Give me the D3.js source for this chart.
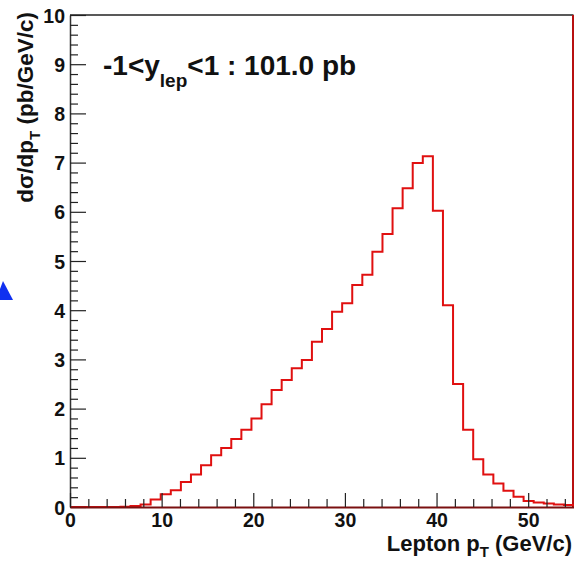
<!DOCTYPE html>
<html>
<head>
<meta charset="utf-8">
<script src="https://cdn.jsdelivr.net/npm/d3@7"></script>
<style>
  html, body { margin: 0; padding: 0; background: #fff; }
  svg { display: block; }
</style>
</head>
<body>
<div id="chart"></div>
<script>
// histogram: 50 bins between 0 and 55 GeV/c
const xRange = [0, 55];
const nBins = 50;
const binValues = [
    0, 0, 0, 0, 0, 0.005, 0.02, 0.05, 0.15, 0.26,
    0.34, 0.51, 0.66, 0.85, 1.05, 1.2, 1.38, 1.57, 1.80, 2.09,
    2.38, 2.58, 2.82, 2.99, 3.36, 3.62, 3.97, 4.14, 4.51, 4.72,
    5.19, 5.55, 6.07, 6.48, 6.99, 7.13, 6.02, 4.1, 2.5, 1.57,
    0.97, 0.66, 0.48, 0.33, 0.21, 0.12, 0.09, 0.07, 0.05, 0.04
];
const yMajorTicks = [0, 1, 2, 3, 4, 5, 6, 7, 8, 9, 10];
const xMajorTicks = [0, 10, 20, 30, 40, 50];
const annotation = { pre: "-1<y", sub: "lep", post: "<1 : 101.0 pb" };

function makeChart(containerSelector) {
    const width = 574, height = 561;
    const font = "'Liberation Sans', Arial, Helvetica, sans-serif";

    d3.select(containerSelector).html("");
    const svg = d3.select(containerSelector)
        .append("svg")
        .attr("width", width)
        .attr("height", height)
        .attr("xmlns", "http://www.w3.org/2000/svg");

    const left = 70, right = 574, top = 15, bottom = 507;

    const x = d3.scaleLinear().domain(xRange).range([left, right]);
    const y = d3.scaleLinear().domain([0, 10]).range([bottom, top]);

    const binW = (xRange[1] - xRange[0]) / nBins;

    // minor tick values
    const yMinor = d3.range(0, 10.001, 0.2).filter(v => Math.abs(v - Math.round(v)) > 1e-6);
    const xMinor = d3.range(0, 55.001, 2).filter(v => v % 10 !== 0);

    // frame (top and right)
    svg.append("line")
        .attr("x1", left).attr("x2", right - 0.5)
        .attr("y1", top).attr("y2", top)
        .attr("stroke", "#222").attr("stroke-width", 1.5);
    svg.append("line")
        .attr("x1", right - 1).attr("x2", right - 1)
        .attr("y1", top).attr("y2", bottom)
        .attr("stroke", "#b81010").attr("stroke-width", 2);

    // histogram outline
    const pts = [[xRange[0], 0]];
    binValues.forEach((v, i) => {
        pts.push([xRange[0] + i * binW, v]);
        pts.push([xRange[0] + (i + 1) * binW, v]);
    });
    pts.push([xRange[1], 0]);
    svg.append("path")
        .attr("d", d3.line().x(d => x(d[0])).y(d => y(d[1]))(pts))
        .attr("fill", "none")
        .attr("stroke", "#e01010")
        .attr("stroke-width", 2)
        .attr("stroke-linejoin", "miter");

    // y axis
    const yAxis = svg.append("g")
        .attr("transform", `translate(${left},0)`)
        .call(d3.axisLeft(y).tickValues(yMajorTicks).tickFormat(d3.format("d"))
            .tickSize(-16).tickSizeOuter(0).tickPadding(5));
    svg.append("g")
        .attr("transform", `translate(${left},0)`)
        .call(d3.axisLeft(y).tickValues(yMinor).tickFormat("").tickSize(-8).tickSizeOuter(0))
        .select(".domain").remove();

    // x axis
    const xAxis = svg.append("g")
        .attr("transform", `translate(0,${bottom})`)
        .call(d3.axisBottom(x).tickValues(xMajorTicks).tickFormat(d3.format("d"))
            .tickSize(-14).tickSizeOuter(0).tickPadding(6));
    svg.append("g")
        .attr("transform", `translate(0,${bottom})`)
        .call(d3.axisBottom(x).tickValues(xMinor).tickFormat("").tickSize(-8).tickSizeOuter(0))
        .select(".domain").remove();

    svg.selectAll(".domain").attr("stroke", "#333").attr("stroke-width", 1.5);
    xAxis.select(".domain").attr("stroke", "#7a1010").attr("stroke-width", 2);
    svg.selectAll(".tick line").attr("stroke", "#222").attr("stroke-width", 1.2);

    [xAxis, yAxis].forEach(a => a.selectAll("text")
        .attr("fill", "#111")
        .style("font-family", font)
        .style("font-size", "19.5px")
        .style("font-weight", "bold"));
    yAxis.selectAll("text").attr("dy", "0.36em");

    // x axis title
    const xt = svg.append("text")
        .attr("x", 572).attr("y", 551)
        .attr("text-anchor", "end")
        .attr("fill", "#111")
        .style("font-family", font)
        .style("font-size", "22px")
        .style("font-weight", "bold");
    xt.append("tspan").text("Lepton p");
    xt.append("tspan").attr("dy", 6).style("font-size", "15px").text("T");
    xt.append("tspan").attr("dy", -6).text(" (GeV/c)");

    // y axis title
    const yt = svg.append("text")
        .attr("transform", "translate(33,12) rotate(-90)")
        .attr("text-anchor", "end")
        .attr("fill", "#111")
        .style("font-family", font)
        .style("font-size", "22.5px")
        .style("font-weight", "bold");
    yt.append("tspan").text("d\u03c3/dp");
    yt.append("tspan").attr("dy", 7).style("font-size", "15px").text("T");
    yt.append("tspan").attr("dy", -7).text(" (pb/GeV/c)");

    // annotation
    const an = svg.append("text")
        .attr("x", 103).attr("y", 75)
        .attr("fill", "#111")
        .style("font-family", font)
        .style("font-size", "28px")
        .style("font-weight", "bold");
    an.append("tspan").text(annotation.pre);
    an.append("tspan").attr("dy", 12).style("font-size", "19px").text(annotation.sub);
    an.append("tspan").attr("dy", -12).text(annotation.post);

    // blue arrow fragment at the left edge
    svg.append("path")
        .attr("d", "M0,289 L3,281 L13,300 L0,300 Z")
        .attr("fill", "#1030f0");

    return svg.node();
}

makeChart("#chart");
</script>
</body>
</html>
